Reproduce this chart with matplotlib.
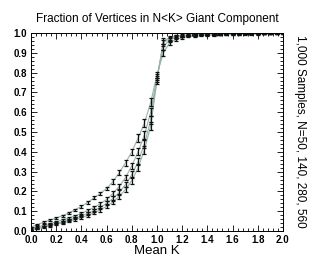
import matplotlib

matplotlib.use("Agg")
import matplotlib.pyplot as plt
from matplotlib.ticker import MultipleLocator

plt.rcParams["font.family"] = ["Liberation Sans", "DejaVu Sans"]

mean_k = [round(0.05 * i, 2) for i in range(41)]

n50 = [0.020, 0.033, 0.045, 0.055, 0.066, 0.078, 0.092, 0.108, 0.125, 0.145,
       0.168, 0.190, 0.215, 0.250, 0.295, 0.345, 0.400, 0.470, 0.545, 0.650,
       0.790, 0.900, 0.950, 0.968, 0.976, 0.981, 0.984, 0.986, 0.988, 0.989,
       0.990, 0.991, 0.992, 0.993, 0.993, 0.994, 0.994, 0.995, 0.995, 0.996,
       0.996]
n140 = [0.007, 0.020, 0.030, 0.038, 0.047, 0.056, 0.066, 0.077, 0.090, 0.103,
        0.120, 0.138, 0.160, 0.190, 0.225, 0.270, 0.330, 0.400, 0.485, 0.600,
        0.780, 0.930, 0.965, 0.978, 0.983, 0.986, 0.988, 0.990, 0.991, 0.992,
        0.993, 0.993, 0.994, 0.994, 0.995, 0.995, 0.996, 0.996, 0.996, 0.997,
        0.997]
n280 = [0.004, 0.015, 0.024, 0.031, 0.039, 0.047, 0.056, 0.066, 0.077, 0.089,
        0.103, 0.120, 0.140, 0.165, 0.195, 0.235, 0.285, 0.350, 0.440, 0.560,
        0.770, 0.950, 0.972, 0.982, 0.986, 0.989, 0.990, 0.992, 0.993, 0.993,
        0.994, 0.995, 0.995, 0.996, 0.996, 0.996, 0.997, 0.997, 0.997, 0.998,
        0.998]
n560 = [0.002, 0.012, 0.020, 0.027, 0.034, 0.041, 0.049, 0.058, 0.068, 0.079,
        0.092, 0.107, 0.125, 0.147, 0.175, 0.210, 0.255, 0.320, 0.410, 0.530,
        0.760, 0.960, 0.977, 0.985, 0.989, 0.991, 0.992, 0.993, 0.994, 0.995,
        0.995, 0.996, 0.996, 0.997, 0.997, 0.997, 0.998, 0.998, 0.998, 0.998,
        0.999]
err = [0.003, 0.004, 0.004, 0.004, 0.005, 0.005, 0.005, 0.006, 0.006, 0.007,
       0.008, 0.009, 0.010, 0.011, 0.012, 0.014, 0.016, 0.018, 0.020, 0.020,
       0.015, 0.015, 0.010, 0.006, 0.004, 0.003, 0.003, 0.002, 0.002, 0.002,
       0.002, 0.002, 0.002, 0.002, 0.002, 0.002, 0.002, 0.002, 0.002, 0.002,
       0.002]

fig = plt.figure(figsize=(3.14, 2.62), dpi=100)
ax = fig.add_axes([0.099, 0.118, 0.802, 0.756])

for series in (n50, n140, n280, n560):
    ax.plot(mean_k, series, color="#9ab2ae", lw=0.8, zorder=1)
    ax.errorbar(mean_k, series, yerr=err, fmt="none", ecolor="#111111",
                elinewidth=0.9, capsize=1.6, capthick=0.9, zorder=2)

ax.set_xlim(0, 2)
ax.set_ylim(0, 1)
ax.xaxis.set_major_locator(MultipleLocator(0.2))
ax.xaxis.set_minor_locator(MultipleLocator(0.04))
ax.yaxis.set_major_locator(MultipleLocator(0.1))
ax.yaxis.set_minor_locator(MultipleLocator(0.02))
ax.tick_params(which="both", direction="in", top=True, right=True,
               labelsize=7, width=0.6, pad=3)
ax.tick_params(which="major", length=4)
ax.tick_params(which="minor", length=2)
for lbl in ax.get_xticklabels() + ax.get_yticklabels():
    lbl.set_fontweight("bold")
for s in ax.spines.values():
    s.set_linewidth(0.7)

ax.set_title("Fraction of Vertices in N<K> Giant Component", fontsize=8.5, pad=8)
ax.set_xlabel("Mean K", fontsize=9.5, labelpad=0)
fig.text(0.955, 0.5, "1,000 Samples, N=50, 140, 280, 560", rotation=-90,
         ha="center", va="center", fontsize=8.5)

fig.savefig("out.png", dpi=100)
